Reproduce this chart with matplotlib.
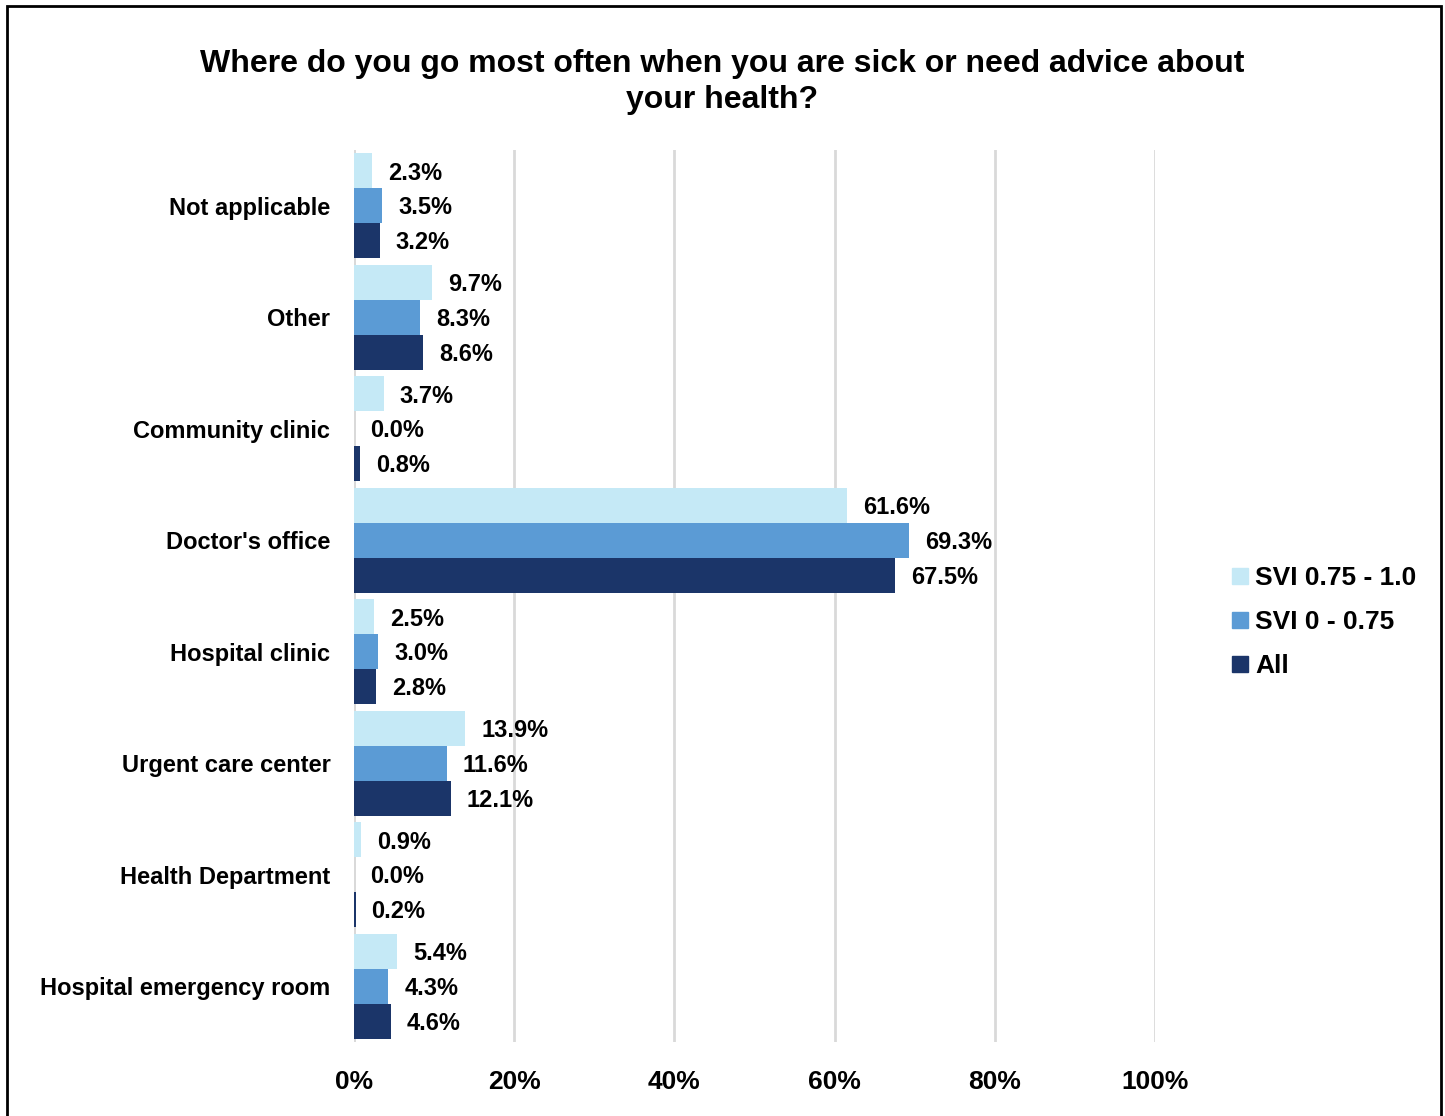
import matplotlib.pyplot as plt
import numpy as np
from matplotlib.patches import Rectangle
from matplotlib.lines import Line2D

plt.rcParams['font.family'] = ['Liberation Sans', 'DejaVu Sans']
plt.rcParams['font.weight'] = 'bold'

categories = ["Not applicable", "Other", "Community clinic", "Doctor's office",
              "Hospital clinic", "Urgent care center", "Health Department",
              "Hospital emergency room"]
svi_high = [2.3, 9.7, 3.7, 61.6, 2.5, 13.9, 0.9, 5.4]
svi_low = [3.5, 8.3, 0.0, 69.3, 3.0, 11.6, 0.0, 4.3]
all_resp = [3.2, 8.6, 0.8, 67.5, 2.8, 12.1, 0.2, 4.6]
series_names = ["SVI 0.75 - 1.0", "SVI 0 - 0.75", "All"]
colors = ["#C5E9F6", "#5B9BD5", "#1B3569"]
ticks = [0, 20, 40, 60, 80, 100]

fig = plt.figure(figsize=(14.45, 11.16), dpi=100)
ax = fig.add_axes([354 / 1445, 1 - 1042 / 1116, (1155 - 354) / 1445, (1042 - 150) / 1116])

y = np.arange(len(categories))
h = 0.3125
for i, (vals, c) in enumerate(zip([svi_high, svi_low, all_resp], colors)):
    pos = y + (i - 1) * h
    ax.barh(pos, vals, height=h, color=c, zorder=3)
    for p, v in zip(pos, vals):
        ax.text(v + 2.0, p + 0.02, f"{v:.1f}%", va='center', ha='left',
                fontsize=17, fontweight='bold', color='black')

ax.set_ylim(len(categories) - 0.5, -0.5)
ax.set_xlim(0, 100)
ax.set_yticks(y)
ax.set_yticklabels(categories, fontsize=17, fontweight='bold')
ax.set_xticks(ticks)
ax.set_xticklabels([f"{t}%" for t in ticks], fontsize=19, fontweight='bold')
ax.tick_params(axis='both', length=0)
ax.tick_params(axis='y', pad=17)
ax.tick_params(axis='x', pad=20)
for s in ax.spines.values():
    s.set_visible(False)
ax.xaxis.grid(True, color='#D9D9D9', linewidth=2, zorder=0)
ax.axvline(0, color='#D9D9D9', linewidth=2, zorder=1)

fig.text(0.5, 1 - 82 / 1116,
         "Where do you go most often when you are sick or need advice about\nyour health?",
         ha='center', va='center', fontsize=23, fontweight='bold', linespacing=1.3)

handles = [Line2D([], [], marker='s', linestyle='none', markersize=12,
                  markerfacecolor=c, markeredgecolor=c) for c in colors]
fig.legend(handles, series_names, loc='center left',
           bbox_to_anchor=(1200 / 1445, 1 - 622 / 1116), frameon=False,
           prop={'size': 19, 'weight': 'bold'}, handletextpad=0.0,
           labelspacing=0.75, handlelength=1.2)

fig.patches.append(Rectangle((7 / 1445, -0.05), (1441 - 7) / 1445, 1 - 6 / 1116 + 0.05,
                             transform=fig.transFigure, fill=False,
                             edgecolor='black', linewidth=2))

fig.savefig("out.png", dpi=100)
